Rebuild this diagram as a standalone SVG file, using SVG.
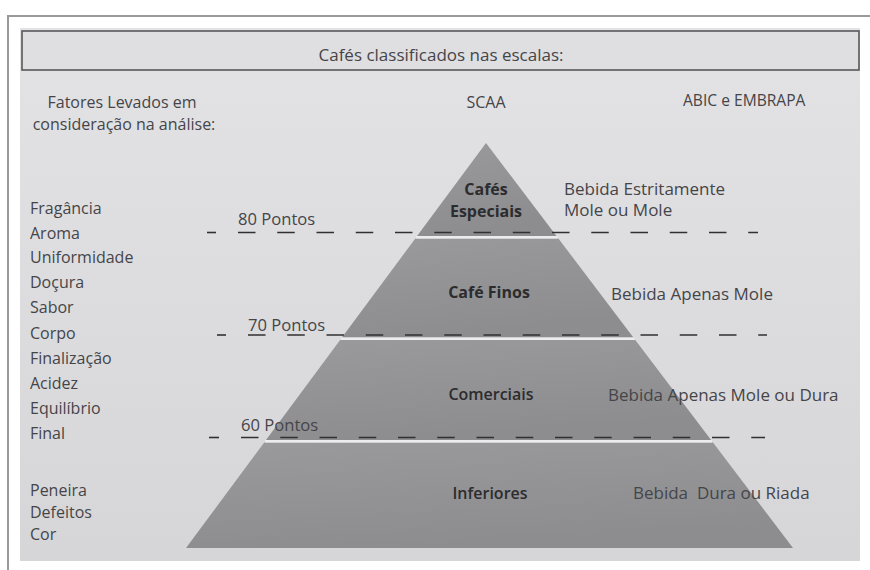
<svg xmlns="http://www.w3.org/2000/svg" width="870" height="570" viewBox="0 0 870 570">
  <defs>
    <linearGradient id="paper" x1="0" y1="0" x2="0" y2="1">
      <stop offset="0" stop-color="#e3e3e6"/>
      <stop offset="1" stop-color="#d6d6d9"/>
    </linearGradient>
    <linearGradient id="stone" x1="0" y1="0" x2="0.3" y2="1">
      <stop offset="0" stop-color="#9a9a9d"/>
      <stop offset="1" stop-color="#8d8d90"/>
    </linearGradient>
    <style>
      text { font-family: "Open Sans", "Noto Sans", "Liberation Sans", sans-serif; font-size: 16px; fill: #454548; }
      .mid { text-anchor: middle; }
      .big { font-size: 17px; }
      .pts { font-size: 16.6px; }
      .tier-label { font-weight: 700; fill: #2c2c2e; }
      .tier-label.soft { font-weight: 600; }
      .tier { fill: url(#stone); }
      .sep { stroke: #ececee; stroke-width: 2.5; }
      .dash { stroke: #303032; stroke-width: 1.6; fill: none; stroke-dasharray: 17.5 21.75; }
      .tick { stroke: #303032; stroke-width: 1.6; }
      .frame { stroke: #9a9a9a; stroke-width: 2; fill: none; }
    </style>
  </defs>

  <!-- page and photo area -->
  <rect x="0" y="0" width="870" height="570" fill="#ffffff"/>
  <path class="frame" d="M8 570 V16 H870"/>
  <rect x="20" y="28" width="840" height="533" fill="url(#paper)"/>

  <!-- title bar -->
  <g id="header">
    <rect x="22" y="31" width="837" height="39" fill="#dfdfe2" stroke="#58585b" stroke-width="1.6"/>
    <text class="mid big" x="441" y="61">Cafés classificados nas escalas:</text>
  </g>

  <!-- column headings -->
  <g id="col-factors">
    <text class="mid" x="122" y="108">Fatores Levados em</text>
    <text class="mid" x="124" y="130">consideração na análise:</text>
  </g>
  <g id="col-scaa">
    <text class="mid" x="486" y="108">SCAA</text>
  </g>
  <g id="col-abic">
    <text x="683" y="106" style="font-size:15.6px">ABIC e EMBRAPA</text>
  </g>

  <!-- evaluated attributes -->
  <g id="factors">
    <text x="30" y="214">Fragância</text>
    <text x="30" y="239">Aroma</text>
    <text x="30" y="263">Uniformidade</text>
    <text x="30" y="288">Doçura</text>
    <text x="30" y="313">Sabor</text>
    <text x="30" y="339">Corpo</text>
    <text x="30" y="364">Finalização</text>
    <text x="30" y="389">Acidez</text>
    <text x="30" y="414">Equilíbrio</text>
    <text x="30" y="439">Final</text>
    <text x="30" y="496">Peneira</text>
    <text x="30" y="518">Defeitos</text>
    <text x="30" y="540">Cor</text>
  </g>

  <!-- pyramid tiers -->
  <g id="tier-especiais">
    <polygon class="tier" points="486,143 556.5,236 417.1,236"/>
    <text class="mid tier-label" x="486" y="195">Cafés</text>
    <text class="mid tier-label" x="486" y="217">Especiais</text>
    <text class="big" x="564" y="195">Bebida Estritamente</text>
    <text class="big" x="564" y="216">Mole ou Mole</text>
  </g>
  <g id="tier-finos">
    <polygon class="tier" points="415.3,238.5 558.4,238.5 633.4,337.5 341.9,337.5"/>
    <text class="mid tier-label" x="489" y="298">Café Finos</text>
    <text class="big" x="611" y="300">Bebida Apenas Mole</text>
  </g>
  <g id="tier-comerciais">
    <polygon class="tier" points="340.1,340 635.3,340 711.1,440 266,440"/>
    <text class="mid tier-label soft" x="491" y="400">Comerciais</text>
    <text class="big" x="608" y="401">Bebida Apenas Mole ou Dura</text>
  </g>
  <g id="tier-inferiores">
    <polygon class="tier" points="264.2,442.5 713,442.5 793,548 186,548"/>
    <text class="mid tier-label soft" x="490" y="499">Inferiores</text>
    <text class="big" x="633" y="499" xml:space="preserve">Bebida  Dura ou Riada</text>
  </g>

  <!-- tier separators -->
  <g id="separators">
    <line class="sep" x1="416.2" y1="237.3" x2="557.5" y2="237.3"/>
    <line class="sep" x1="341" y1="338.8" x2="634.4" y2="338.8"/>
    <line class="sep" x1="265.1" y1="441.3" x2="712" y2="441.3"/>
  </g>

  <!-- score thresholds -->
  <g id="thresholds">
    <text class="pts" x="238" y="225">80 Pontos</text>
    <line class="tick" x1="207" y1="232.5" x2="216" y2="232.5"/>
    <line class="dash" x1="238" y1="232.5" x2="758" y2="232.5"/>

    <text class="pts" x="248" y="331">70 Pontos</text>
    <line class="tick" x1="217" y1="335" x2="226" y2="335"/>
    <line class="dash" x1="248" y1="335" x2="767" y2="335"/>

    <text class="pts" x="241" y="431">60 Pontos</text>
    <line class="tick" x1="209" y1="437.5" x2="219" y2="437.5"/>
    <line class="dash" x1="241" y1="437.5" x2="765" y2="437.5"/>
  </g>
</svg>
